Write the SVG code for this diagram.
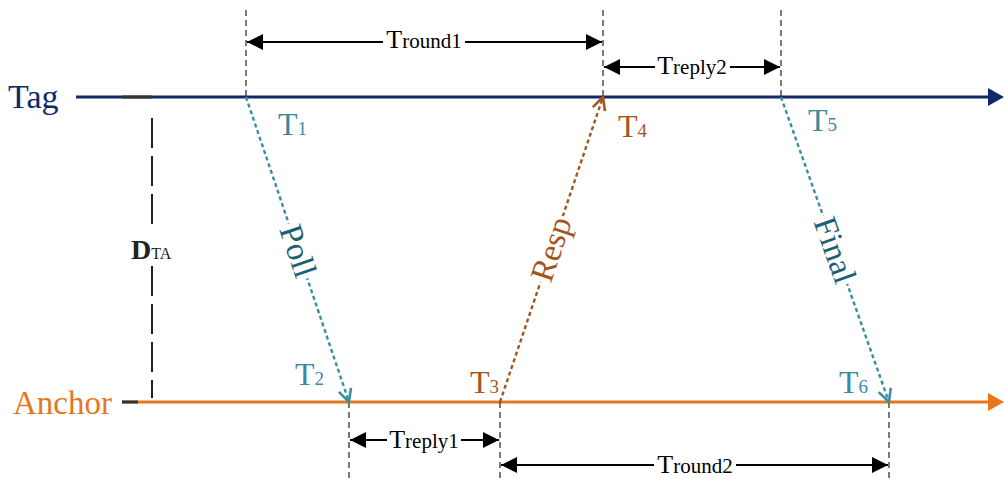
<svg xmlns="http://www.w3.org/2000/svg" width="1004" height="479" viewBox="0 0 1004 479">
<style>
text{font-family:"Liberation Serif","Times New Roman",serif}
.guide{stroke:#222;stroke-width:1.2;stroke-dasharray:6,4;fill:none}
.dim{stroke:#000;stroke-width:1.8;fill:none}
.lbl{font-size:26px;fill:#000}
.sub{font-size:21px}
.tsub{font-size:19px}
.teal{fill:#3a8b9c}
.brown{fill:#a3561c}
.tsize{font-size:32px}
.msg{font-size:33px}
</style>
<defs>
<marker id="dimhead" viewBox="0 0 10 10" refX="10" refY="5" markerWidth="26" markerHeight="16" markerUnits="userSpaceOnUse" orient="auto-start-reverse"><path d="M0,0 L10,5 L0,10 Z" fill="#000"/></marker>
<marker id="openTeal" viewBox="0 0 10 10" refX="9" refY="5" markerWidth="16" markerHeight="16" markerUnits="userSpaceOnUse" orient="auto"><path d="M1,1 L9,5 L1,9" fill="none" stroke="#3a8ea0" stroke-width="1.6"/></marker>
<marker id="openBrown" viewBox="0 0 10 10" refX="9" refY="5" markerWidth="16" markerHeight="16" markerUnits="userSpaceOnUse" orient="auto"><path d="M1,1 L9,5 L1,9" fill="none" stroke="#a3561c" stroke-width="1.6"/></marker>
</defs>

<g id="tag">
<text x="8" y="108" font-size="34" fill="#10296a">Tag</text>
<line x1="76" y1="97" x2="990" y2="97" stroke="#10296a" stroke-width="3"/>
<path d="M988,88 L1004,97 L988,106 Z" fill="#10296a"/>
<line x1="122" y1="97" x2="152" y2="97" stroke="#333" stroke-width="3"/>
</g>

<g id="anchor">
<text x="13" y="414" font-size="33" fill="#e8761e">Anchor</text>
<line x1="122" y1="402" x2="990" y2="402" stroke="#e8761e" stroke-width="3"/>
<path d="M988,393 L1004,402 L988,411 Z" fill="#e8761e"/>
<line x1="122" y1="402" x2="138" y2="402" stroke="#333" stroke-width="3"/>
</g>

<g id="dta">
<line x1="152" y1="118" x2="152" y2="231" stroke="#222" stroke-width="2" stroke-dasharray="30,8"/>
<line x1="152" y1="266" x2="152" y2="398" stroke="#222" stroke-width="2" stroke-dasharray="30,8"/>
<text x="131" y="259" font-size="28" font-weight="bold" fill="#222">D<tspan font-size="16" font-weight="normal">TA</tspan></text>
</g>

<g id="guides">
<line class="guide" x1="246" y1="10" x2="246" y2="97"/>
<line class="guide" x1="603" y1="10" x2="603" y2="97"/>
<line class="guide" x1="781" y1="10" x2="781" y2="97"/>
<line class="guide" x1="349" y1="402" x2="349" y2="479"/>
<line class="guide" x1="500" y1="402" x2="500" y2="479"/>
<line class="guide" x1="889" y1="402" x2="889" y2="479"/>
</g>

<g id="connectors">
<line x1="246" y1="97" x2="349" y2="402" stroke="#3a8ea0" stroke-width="2.4" stroke-dasharray="4,3" marker-end="url(#openTeal)"/>
<line x1="500" y1="402" x2="603" y2="97" stroke="#a3561c" stroke-width="2.4" stroke-dasharray="4,3" marker-end="url(#openBrown)"/>
<line x1="781" y1="97" x2="889" y2="402" stroke="#3a8ea0" stroke-width="2.4" stroke-dasharray="4,3" marker-end="url(#openTeal)"/>
</g>

<g id="msg-poll">
<rect x="-29" y="-13" width="58" height="25" fill="#fff" transform="translate(298,251) rotate(71.3)"/>
<text class="msg" fill="#1d5f74" text-anchor="middle" y="11" transform="translate(298,251) rotate(71.3)">Poll</text>
</g>
<g id="msg-resp">
<rect x="-35" y="-13" width="70" height="25" fill="#fff" transform="translate(551,249) rotate(-71.3)"/>
<text class="msg" fill="#a3561c" text-anchor="middle" y="11" transform="translate(551,249) rotate(-71.3)">Resp</text>
</g>
<g id="msg-final">
<rect x="-36" y="-13" width="72" height="25" fill="#fff" transform="translate(835,250) rotate(70.5)"/>
<text class="msg" fill="#1d5f74" text-anchor="middle" y="11" transform="translate(835,250) rotate(70.5)">Final</text>
</g>

<g id="timestamps">
<text class="teal tsize" x="278" y="135">T<tspan class="tsub">1</tspan></text>
<text class="brown tsize" x="618" y="137">T<tspan class="tsub">4</tspan></text>
<text class="teal tsize" x="808" y="131">T<tspan class="tsub">5</tspan></text>
<text class="teal tsize" x="295" y="385">T<tspan class="tsub">2</tspan></text>
<text class="brown tsize" x="470" y="393">T<tspan class="tsub">3</tspan></text>
<text class="teal tsize" x="839" y="393">T<tspan class="tsub">6</tspan></text>
</g>

<g id="dims">
<line class="dim" x1="247" y1="42" x2="602" y2="42" marker-start="url(#dimhead)" marker-end="url(#dimhead)"/>
<rect x="383" y="28" width="82" height="26" fill="#fff"/>
<text class="lbl" x="424" y="48" text-anchor="middle">T<tspan class="sub">round1</tspan></text>

<line class="dim" x1="604" y1="67" x2="780" y2="67" marker-start="url(#dimhead)" marker-end="url(#dimhead)"/>
<rect x="655" y="53" width="75" height="26" fill="#fff"/>
<text class="lbl" x="692" y="74" text-anchor="middle">T<tspan class="sub">reply2</tspan></text>

<line class="dim" x1="350" y1="440" x2="499" y2="440" marker-start="url(#dimhead)" marker-end="url(#dimhead)"/>
<rect x="387" y="426" width="74" height="26" fill="#fff"/>
<text class="lbl" x="424" y="448" text-anchor="middle">T<tspan class="sub">reply1</tspan></text>

<line class="dim" x1="501" y1="465" x2="888" y2="465" marker-start="url(#dimhead)" marker-end="url(#dimhead)"/>
<rect x="654" y="451" width="82" height="28" fill="#fff"/>
<text class="lbl" x="695" y="473" text-anchor="middle">T<tspan class="sub">round2</tspan></text>
</g>
</svg>
